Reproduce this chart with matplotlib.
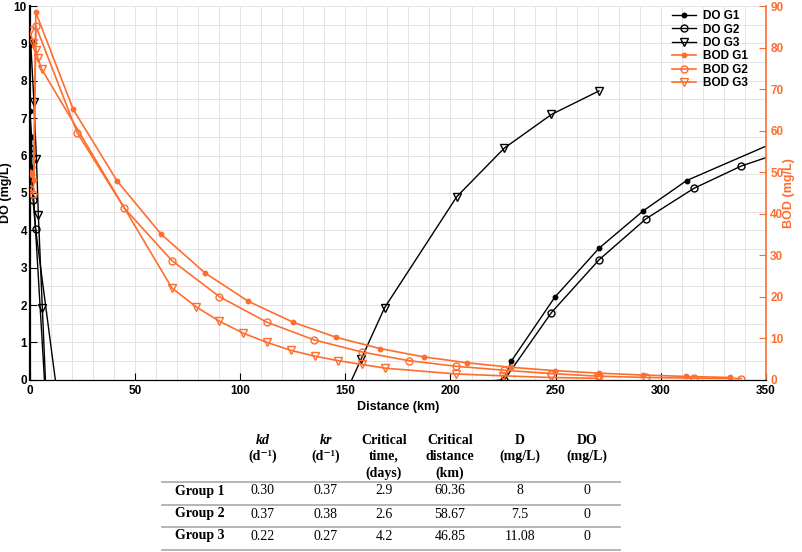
import matplotlib
matplotlib.use("Agg")
import matplotlib.pyplot as plt
from matplotlib.ticker import MultipleLocator

# dados (distancia em km)
do_g1_x = [0, 0.1, 0.9, 1.0, 9.0, 207.8, 228.8, 249.6, 270.6, 291.6, 312.2, 354.0]
do_g1_y = [9.0, 7.2, 6.5, 5.7, -1.9, -2.6, 0.49, 2.21, 3.52, 4.52, 5.33, 6.35]

do_g2_x = [0, 0.05, 1.6, 2.8, 14.5, 225.6, 248.0, 270.6, 293.0, 315.6, 338.2, 360.8]
do_g2_y = [9.0, 6.2, 4.8, 4.03, -1.0, 0, 1.8, 3.21, 4.31, 5.12, 5.72, 6.15]

do_g3_x = [0.5, 2.0, 3.2, 4.1, 6.0, 9.0, 146.6, 157.6, 168.7, 203.0, 225.6, 248.0, 270.6]
do_g3_y = [9.0, 7.44, 5.9, 4.41, 1.92, -2.0, -0.8, 0.56, 1.93, 4.9, 6.2, 7.1, 7.73]

bod_g1_x = [0, 1.0, 2.0, 2.9, 20.7, 41.5, 62.4, 83.4, 103.9, 125.0, 145.8, 166.7,
            187.4, 207.8, 228.8, 249.6, 270.4, 291.3, 312.0, 333.0]
bod_g1_y = [50.0, 49.2, 48.0, 88.5, 65.1, 47.9, 35.1, 25.7, 18.9, 13.9, 10.2, 7.5,
            5.5, 4.1, 3.0, 2.2, 1.6, 1.15, 0.8, 0.55]

bod_g2_x = [0, 1.8, 2.9, 22.6, 45.0, 67.6, 90.2, 112.6, 135.2, 157.8, 180.2,
            202.8, 225.4, 248.0, 270.5, 293.0, 315.6, 338.2]
bod_g2_y = [46.0, 44.7, 85.2, 59.5, 41.3, 28.7, 20.0, 13.9, 9.6, 6.7, 4.6,
            3.25, 2.3, 1.5, 0.85, 0.55, 0.4, 0.3]

bod_g3_x = [0, 1.7, 3.0, 3.9, 5.7, 67.6, 79.0, 90.2, 101.6, 112.8, 124.0, 135.4,
            146.6, 157.8, 169.0, 202.5, 225.0, 247.6, 270.0]
bod_g3_y = [84.0, 81.2, 79.4, 77.4, 74.8, 22.1, 17.6, 14.1, 11.2, 9.0, 7.1, 5.7,
            4.6, 3.7, 2.8, 1.4, 0.95, 0.55, 0.35]

# tabela
col_headers = ["kd\n(d⁻¹)", "kr\n(d⁻¹)", "Critical\ntime,\n(days)",
               "Critical\ndistance\n(km)", "D\n(mg/L)", "DO\n(mg/L)"]
row_labels = ["Group 1", "Group 2", "Group 3"]
table_rows = [["0.30", "0.37", "2.9", "60.36", "8", "0"],
              ["0.37", "0.38", "2.6", "58.67", "7.5", "0"],
              ["0.22", "0.27", "4.2", "46.85", "11.08", "0"]]

orange = "#ff6d2e"
plt.rcParams["font.family"] = ["Liberation Sans", "DejaVu Sans"]
plt.rcParams["font.weight"] = "bold"

fig = plt.figure(figsize=(8.03, 5.52), dpi=100)
ax = fig.add_axes([0.037, 0.312, 0.917, 0.677])
ax2 = ax.twinx()

l1, = ax.plot(do_g1_x, do_g1_y, color="black", lw=1, marker="o", ms=3.2, label="DO G1")
l2, = ax.plot(do_g2_x, do_g2_y, color="black", lw=1, marker="o", ms=5, mfc="none", label="DO G2")
l3, = ax.plot(do_g3_x, do_g3_y, color="black", lw=1, marker="v", ms=6, mfc="none", label="DO G3")
b1, = ax2.plot(bod_g1_x, bod_g1_y, color=orange, lw=1.2, marker="o", ms=3.2, label="BOD G1")
b2, = ax2.plot(bod_g2_x, bod_g2_y, color=orange, lw=1.2, marker="o", ms=5, mfc="none", label="BOD G2")
b3, = ax2.plot(bod_g3_x, bod_g3_y, color=orange, lw=1.2, marker="v", ms=6, mfc="none", label="BOD G3")

ax.set_xlim(0, 350)
ax.set_ylim(0, 10)
ax2.set_ylim(0, 90)
ax.xaxis.set_major_locator(MultipleLocator(50))
ax.xaxis.set_minor_locator(MultipleLocator(10))
ax.yaxis.set_major_locator(MultipleLocator(1))
ax.yaxis.set_minor_locator(MultipleLocator(0.5))
ax2.yaxis.set_major_locator(MultipleLocator(10))
ax.grid(which="both", color="#e4e4e4", lw=0.7)
ax.set_axisbelow(True)

ax.tick_params(axis="both", which="major", direction="in", length=5, labelsize=8.5, pad=2)
ax.tick_params(axis="x", which="major", pad=4)
ax.tick_params(axis="both", which="minor", length=0)
ax2.tick_params(axis="y", direction="in", length=5, colors=orange, labelsize=8.5, pad=3)
ax.spines["top"].set_visible(False)
ax2.spines["top"].set_visible(False)
ax.spines["left"].set_linewidth(1.6)
ax2.spines["left"].set_visible(False)
ax2.spines["right"].set_color(orange)
ax2.spines["right"].set_linewidth(1.2)
ax.spines["right"].set_visible(False)

ax.set_xlabel("Distance (km)", fontsize=9, fontweight="bold", labelpad=3)
ax.set_ylabel("DO (mg/L)", fontsize=9, fontweight="bold", labelpad=1)
ax2.set_ylabel("BOD (mg/L)", fontsize=9, fontweight="bold", color=orange, labelpad=0)

leg = ax2.legend(handles=[l1, l2, l3, b1, b2, b3], loc="upper right",
                 bbox_to_anchor=(0.985, 1.008), frameon=False, fontsize=8.5,
                 handlelength=2.0, handletextpad=0.6, labelspacing=0.12,
                 borderaxespad=0.2)

# tabela desenhada com texto
serif = ["Liberation Serif", "DejaVu Serif"]
col_x = [263, 326, 384, 450, 520, 587]
W, H = 803.0, 552.0
for i, h in enumerate(col_headers):
    lines = h.split("\n")
    for j, t in enumerate(lines):
        style = "italic" if (j == 0 and i < 2) else "normal"
        fig.text(col_x[i] / W, 1 - (440 + 16.5 * j) / H, t, ha="center", va="center",
                 family=serif, fontsize=10, fontweight="bold", style=style)
row_y = [491, 514, 536]
for r, lab in enumerate(row_labels):
    fig.text(175 / W, 1 - row_y[r] / H, lab, ha="left", va="center",
             family=serif, fontsize=10, fontweight="bold")
    for c, val in enumerate(table_rows[r]):
        fig.text(col_x[c] / W, 1 - row_y[r] / H, val, ha="center", va="center",
                 family=serif, fontsize=10, fontweight="normal")
for yy in [482, 505, 527, 550]:
    fig.add_artist(plt.Line2D([162 / W, 620 / W], [1 - yy / H, 1 - yy / H],
                              color="#b0b0b0", lw=1.3))

fig.savefig("out.png", dpi=100)
